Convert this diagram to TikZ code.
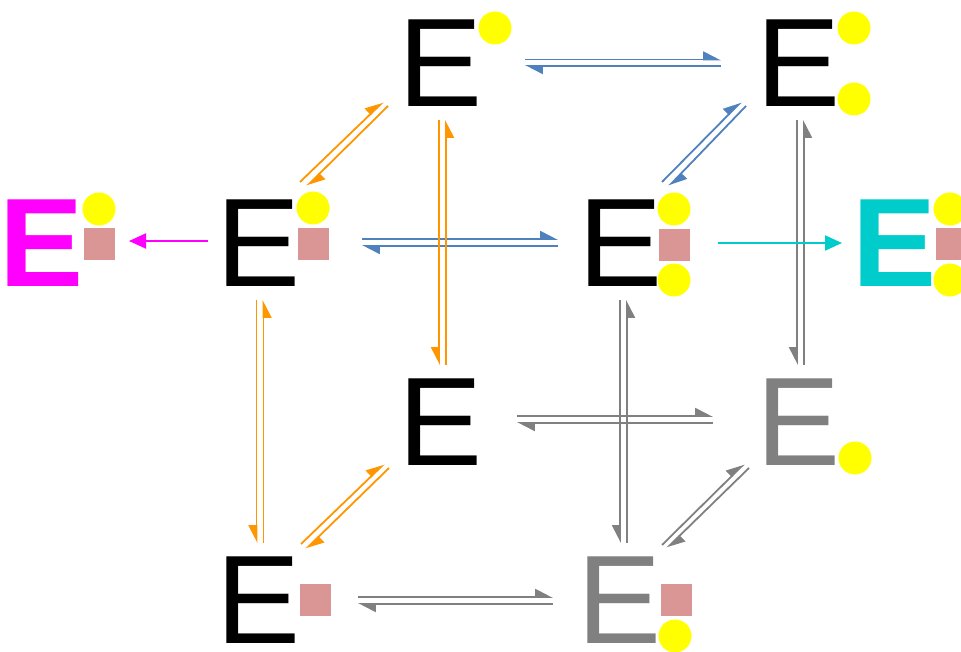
\documentclass[tikz,border=0pt]{standalone}
\usepackage{fontspec}
\setmainfont{Liberation Sans}
\usetikzlibrary{arrows.meta,calc}

\definecolor{ballyellow}{RGB}{255,255,0}
\definecolor{padpink}{RGB}{217,150,148}
\definecolor{eqorange}{RGB}{255,150,0}
\definecolor{eqblue}{RGB}{79,129,189}
\definecolor{eqgrey}{RGB}{128,128,128}
\definecolor{emagenta}{RGB}{255,0,255}
\definecolor{ecyan}{RGB}{0,204,204}

\tikzset{
  letter/.style={inner sep=0pt, font=\fontsize{126}{126}\selectfont},
  ball/.style={circle, fill=ballyellow, minimum size=33pt, inner sep=0pt},
  pad/.style={rectangle, fill=padpink, minimum width=31pt, minimum height=32pt, inner sep=0pt},
  fwd/.style={line width=1.8pt, -{Triangle[harpoon,length=16pt,width=16pt]}},
  vfwd/.style={line width=1.8pt, -{Triangle[harpoon,swap,length=16pt,width=16pt]}},
  oneway/.style={line width=2pt, -{Triangle[length=17pt,width=15pt]}}
}

\begin{document}
\begin{tikzpicture}[x=1pt,y=-1pt]
  \useasboundingbox (0,0) rectangle (961,652);

  % E mit Liganden
  \node[letter] (A) at (441,63) {E};
  \node[ball] (A1) at ($(A)+(54,-35)$) {};

  \node[letter] (B) at (799,63) {E};
  \node[ball] (B1) at ($(B)+(55,-35)$) {};
  \node[ball] (B2) at ($(B)+(55,36)$) {};

  \node[letter] (C) at (259,243) {E};
  \node[ball] (C1) at ($(C)+(54,-35)$) {};
  \node[pad] (C2) at ($(C)+(54,1)$) {};

  \node[letter] (D) at (621,243) {E};
  \node[ball] (D1) at ($(D)+(53,-34)$) {};
  \node[pad] (D2) at ($(D)+(53,2)$) {};
  \node[ball] (D3) at ($(D)+(53,37)$) {};

  \node[letter] (F) at (441,422) {E};

  \node[letter,text=eqgrey] (G) at (799,422) {E};
  \node[ball] (G1) at ($(G)+(56,36)$) {};

  \node[letter] (H) at (259,600) {E};
  \node[pad] (H1) at ($(H)+(56,0)$) {};

  \node[letter,text=eqgrey] (I) at (620,600) {E};
  \node[pad] (I1) at ($(I)+(56,0)$) {};
  \node[ball] (I2) at ($(I)+(55,36)$) {};

  \node[letter,font=\fontsize{126}{126}\selectfont\bfseries,text=emagenta] (M) at (42,243) {E};
  \node[ball] (M1) at ($(M)+(57,-34)$) {};
  \node[pad] (M2) at ($(M)+(57,1)$) {};

  \node[letter,font=\fontsize{126}{126}\selectfont\bfseries,text=ecyan] (K) at (895,243) {E};
  \node[ball] (K1) at ($(K)+(55,-34)$) {};
  \node[pad] (K2) at ($(K)+(56,1)$) {};
  \node[ball] (K3) at ($(K)+(55,37)$) {};

  % horizontale Gleichgewichte
  \draw[fwd,eqblue] ($(A)+(84,-3.5)$) -- ($(B)+(-78,-3.5)$);
  \draw[fwd,eqblue] ($(B)+(-78,3)$) -- ($(A)+(84,3)$);
  \draw[fwd,eqblue] ($(C)+(103,-4)$) -- ($(D)+(-63,-4)$);
  \draw[fwd,eqblue] ($(D)+(-63,3)$) -- ($(C)+(103,3)$);
  \draw[fwd,eqgrey] ($(F)+(76,-6)$) -- ($(G)+(-86,-6)$);
  \draw[fwd,eqgrey] ($(G)+(-86,1)$) -- ($(F)+(76,1)$);
  \draw[fwd,eqgrey] ($(H)+(99,-3)$) -- ($(I)+(-67,-3)$);
  \draw[fwd,eqgrey] ($(I)+(-67,4)$) -- ($(H)+(99,4)$);

  % diagonale Gleichgewichte
  \draw[fwd,eqorange] ($(C)+(41,-61)$) -- ($(A)+(-58,39)$);
  \draw[fwd,eqorange] ($(A)+(-53,43)$) -- ($(C)+(48,-57)$);
  \draw[fwd,eqorange] ($(H)+(42,-56)$) -- ($(F)+(-57,42)$);
  \draw[fwd,eqorange] ($(F)+(-52,46)$) -- ($(H)+(47,-51)$);
  \draw[fwd,eqblue] ($(D)+(41,-61)$) -- ($(B)+(-58,39)$);
  \draw[fwd,eqblue] ($(B)+(-53,43)$) -- ($(D)+(48,-57)$);
  \draw[fwd,eqgrey] ($(I)+(42,-55)$) -- ($(G)+(-55,42)$);
  \draw[fwd,eqgrey] ($(G)+(-50,46)$) -- ($(I)+(47,-52)$);

  % vertikale Gleichgewichte
  \draw[vfwd,eqorange] ($(A)+(-2,57)$) -- ($(F)+(-2,-57)$);
  \draw[vfwd,eqorange] ($(F)+(5,-57)$) -- ($(A)+(5,57)$);
  \draw[vfwd,eqorange] ($(C)+(-2.5,57)$) -- ($(H)+(-2.5,-57)$);
  \draw[vfwd,eqorange] ($(H)+(4.5,-57)$) -- ($(C)+(4.5,57)$);
  \draw[vfwd,eqgrey] ($(B)+(-2,57)$) -- ($(G)+(-2,-57)$);
  \draw[vfwd,eqgrey] ($(G)+(5,-57)$) -- ($(B)+(5,57)$);
  \draw[vfwd,eqgrey] ($(D)+(-1,57)$) -- ($(I)+(0,-57)$);
  \draw[vfwd,eqgrey] ($(I)+(7,-57)$) -- ($(D)+(6,57)$);

  % Reaktionen nach aussen
  \draw[oneway,emagenta] ($(C)+(-51,-2)$) -- ($(M)+(87,-2)$);
  \draw[oneway,ecyan] ($(D)+(97,0)$) -- ($(K)+(-53,0)$);
\end{tikzpicture}
\end{document}
